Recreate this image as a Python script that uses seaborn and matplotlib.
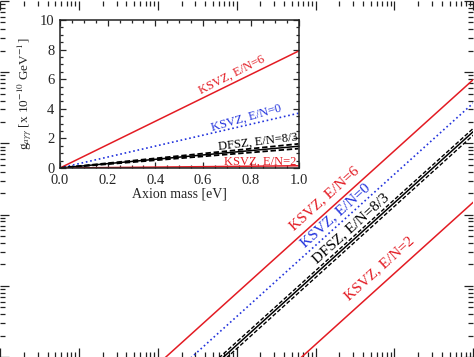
import numpy as np
import pandas as pd
import matplotlib
matplotlib.use("Agg")
import matplotlib.pyplot as plt
from matplotlib.ticker import LogLocator, NullFormatter, MultipleLocator
import seaborn as sns

# Axion-photon coupling at m_a = 1 eV, units of 1e-10 GeV^-1
models = ["KSVZ, E/N=6", "KSVZ, E/N=0", "DFSZ, E/N=8/3", "KSVZ, E/N=2"]
g_at_1eV = [7.9, 3.7, 1.47, 0.15]
dfsz_band = [1.31, 1.63]
colors = ["#e31b23", "#2233dd", "black", "#e31b23"]
styles = ["-", ":", "-", "-"]

mass_main = [1e-9, 1e-3]   # eV
mass_inset = [0.0, 1.0]    # eV

sns.set_style("ticks")
plt.rcParams["font.family"] = ["Liberation Serif", "DejaVu Serif"]
plt.rcParams["mathtext.fontset"] = "stix"

fig = plt.figure(figsize=(4.74, 3.57), dpi=100)

# Main log-log panel (only a crop of it is visible)
ax = fig.add_axes([0.0, 0.0, 473.4 / 474, 356 / 357])
ax.set_xscale("log")
ax.set_yscale("log")
ax.set_xlim(1e-9, 1e-3)
ax.set_ylim(1e-16, 1e-11)

m = np.array(mass_main)
for name, g1, c, ls in zip(models, g_at_1eV, colors, styles):
    sns.lineplot(x=m, y=g1 * 1e-10 * m, ax=ax, color=c, linestyle=ls,
                 linewidth=1.1 if ls == "-" else 1.2)
for gb in dfsz_band:
    sns.lineplot(x=m, y=gb * 1e-10 * m, ax=ax, color="black",
                 linestyle=(0, (3, 1.5)), linewidth=1.0)

ax.xaxis.set_major_locator(LogLocator(base=10, numticks=20))
ax.xaxis.set_minor_locator(LogLocator(base=10, subs=np.arange(2, 10), numticks=20))
ax.yaxis.set_major_locator(LogLocator(base=10, numticks=20))
ax.yaxis.set_minor_locator(LogLocator(base=10, subs=np.arange(2, 10), numticks=20))
ax.xaxis.set_minor_formatter(NullFormatter())
ax.yaxis.set_minor_formatter(NullFormatter())
ax.tick_params(which="both", direction="in", top=True, right=True,
               labelbottom=False, labelleft=False, width=0.9, color="#222222")
ax.tick_params(which="major", length=6.5)
ax.tick_params(which="minor", length=3.6)
for s in ax.spines.values():
    s.set_visible(False)

# label centres in axes fraction, nudged up-left off their lines
main_labels = [(0.686, 0.445), (0.709, 0.397), (0.740, 0.360), (0.802, 0.249)]
for name, c, (tx, ty) in zip(models, colors, main_labels):
    ax.text(tx, ty, name, transform=ax.transAxes, color=c, fontsize=11,
            rotation=42, rotation_mode="anchor", ha="center", va="center")

# Inset with linear axes
ax_in = fig.add_axes([60 / 474, 189 / 357, 238.5 / 474, 148 / 357])
ax_in.set_facecolor("white")
mi = np.array(mass_inset)
for name, g1, c, ls in zip(models, g_at_1eV, colors, styles):
    sns.lineplot(x=mi, y=g1 * mi, ax=ax_in, color=c, linestyle=ls,
                 linewidth=1.1 if ls == "-" else 1.2)
for gb in dfsz_band:
    sns.lineplot(x=mi, y=gb * mi, ax=ax_in, color="black",
                 linestyle=(0, (3, 1.5)), linewidth=1.3)

ax_in.set_xlim(0, 1)
ax_in.set_ylim(0, 10)
ax_in.xaxis.set_major_locator(MultipleLocator(0.2))
ax_in.xaxis.set_minor_locator(MultipleLocator(0.05))
ax_in.yaxis.set_major_locator(MultipleLocator(2))
ax_in.yaxis.set_minor_locator(MultipleLocator(0.5))
ax_in.xaxis.set_major_formatter(lambda v, p: f"{v:.1f}")
ax_in.tick_params(which="both", direction="in", top=True, right=True,
                  labelsize=10.5, width=0.9, pad=4)
ax_in.tick_params(which="major", length=4.5)
ax_in.tick_params(which="minor", length=2.5)
for s in ax_in.spines.values():
    s.set_linewidth(1.1)
    s.set_color("#222222")

ax_in.set_xlabel("Axion mass [eV]", fontsize=10, labelpad=1)
ax_in.set_ylabel(r"g$_{a\gamma\gamma}$ [x 10$^{-10}$ GeV$^{-1}$]", fontsize=9.5, labelpad=4)

inset_labels = [(0.72, 6.3, 27), (0.78, 3.4, 16), (0.83, 1.75, 7), (0.84, 0.42, 0)]
for name, c, (tx, ty, rot) in zip(models, colors, inset_labels):
    ax_in.text(tx, ty, name, color=c, fontsize=9, rotation=rot,
               rotation_mode="anchor", ha="center", va="center")

fig.savefig("out.png", dpi=100)
